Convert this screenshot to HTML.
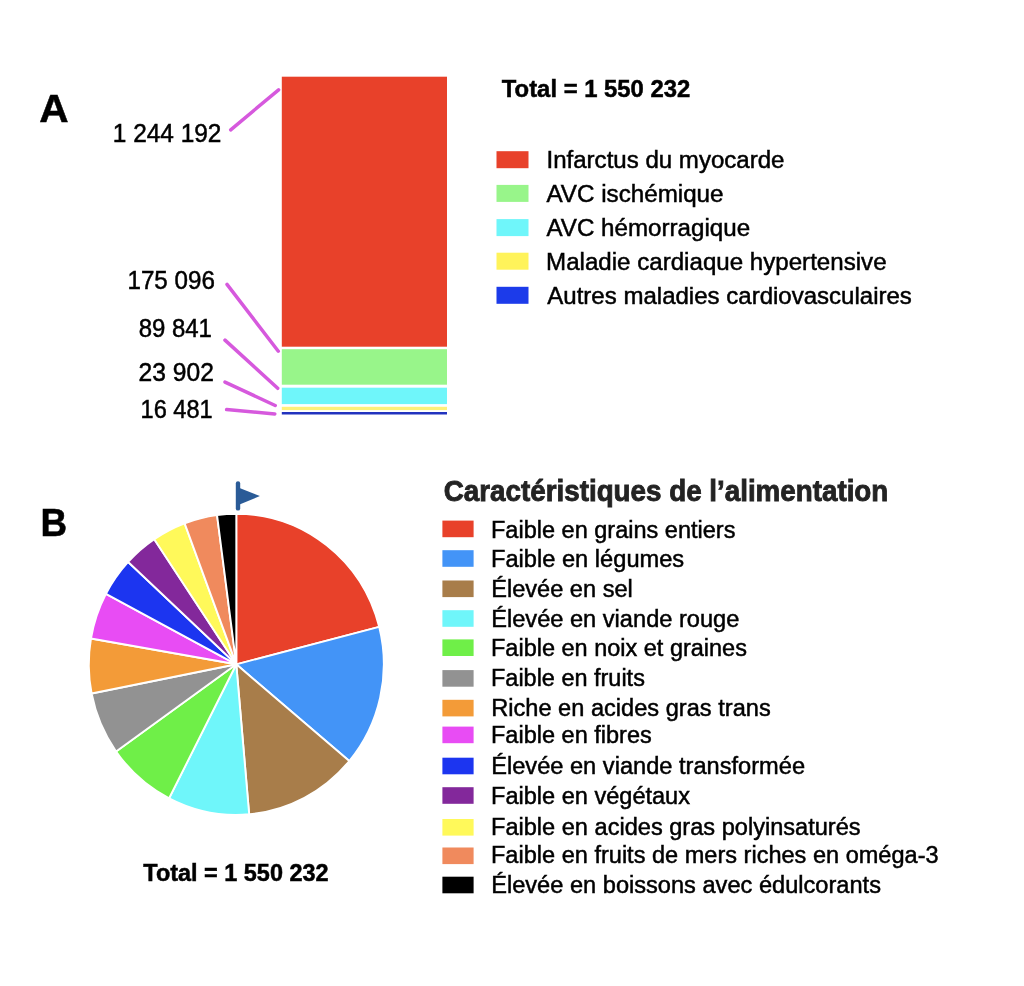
<!DOCTYPE html>
<html lang="fr"><head><meta charset="utf-8"><title>Figure</title>
<style>
html,body{margin:0;padding:0;background:#fff;}
body{width:1024px;height:986px;overflow:hidden;}
svg{display:block;}
text{font-family:"Liberation Sans",sans-serif;}
.b{font-weight:bold;}
</style></head><body>
<svg width="1024" height="986" viewBox="0 0 1024 986">
<rect width="1024" height="986" fill="#fff"/>
<rect x="281.8" y="76.7" width="165.2" height="270.0" fill="#E8412A"/>
<rect x="281.8" y="349.2" width="165.2" height="35.5" fill="#98F58A"/>
<rect x="281.8" y="387.7" width="165.2" height="16.4" fill="#6FF6FA"/>
<rect x="281.8" y="406.8" width="165.2" height="3.3" fill="#FFF07A"/>
<rect x="281.8" y="412.0" width="165.2" height="2.5" fill="#2233BE"/>
<line x1="230.7" y1="129.8" x2="278.6" y2="89.8" stroke="#D659DD" stroke-width="3.5" stroke-linecap="round"/>
<line x1="227" y1="284.4" x2="278.3" y2="351.2" stroke="#D659DD" stroke-width="3.5" stroke-linecap="round"/>
<line x1="225" y1="340.1" x2="277.7" y2="388.3" stroke="#D659DD" stroke-width="3.5" stroke-linecap="round"/>
<line x1="225" y1="382.1" x2="275.2" y2="405.5" stroke="#D659DD" stroke-width="3.5" stroke-linecap="round"/>
<line x1="226.6" y1="409.6" x2="274.8" y2="413.9" stroke="#D659DD" stroke-width="3.5" stroke-linecap="round"/>
<rect x="496.5" y="151.2" width="32" height="17" fill="#E8412A"/>
<rect x="496.5" y="184.9" width="32" height="17" fill="#98F58A"/>
<rect x="496.5" y="219.1" width="32" height="17" fill="#6FF6FA"/>
<rect x="496.5" y="252.7" width="32" height="17" fill="#FFF35A"/>
<rect x="496.5" y="286.8" width="32" height="17" fill="#1C3BEA"/>
<path d="M236.3,664.3 L236.30,513.80 A147.5,150.5 0 0 1 379.17,626.87 Z" fill="#E8412A" stroke="#fff" stroke-width="1.9" stroke-linejoin="round"/>
<path d="M236.3,664.3 L379.17,626.87 A147.5,150.5 0 0 1 349.29,761.04 Z" fill="#4394F7" stroke="#fff" stroke-width="1.9" stroke-linejoin="round"/>
<path d="M236.3,664.3 L349.29,761.04 A147.5,150.5 0 0 1 249.16,814.23 Z" fill="#A87D4A" stroke="#fff" stroke-width="1.9" stroke-linejoin="round"/>
<path d="M236.3,664.3 L249.16,814.23 A147.5,150.5 0 0 1 169.11,798.28 Z" fill="#6FF6FA" stroke="#fff" stroke-width="1.9" stroke-linejoin="round"/>
<path d="M236.3,664.3 L169.11,798.28 A147.5,150.5 0 0 1 116.07,751.48 Z" fill="#6FEF48" stroke="#fff" stroke-width="1.9" stroke-linejoin="round"/>
<path d="M236.3,664.3 L116.07,751.48 A147.5,150.5 0 0 1 91.61,693.53 Z" fill="#929292" stroke="#fff" stroke-width="1.9" stroke-linejoin="round"/>
<path d="M236.3,664.3 L91.61,693.53 A147.5,150.5 0 0 1 90.97,638.55 Z" fill="#F39B38" stroke="#fff" stroke-width="1.9" stroke-linejoin="round"/>
<path d="M236.3,664.3 L90.97,638.55 A147.5,150.5 0 0 1 105.94,593.88 Z" fill="#E84CF4" stroke="#fff" stroke-width="1.9" stroke-linejoin="round"/>
<path d="M236.3,664.3 L105.94,593.88 A147.5,150.5 0 0 1 128.16,561.95 Z" fill="#1C35F0" stroke="#fff" stroke-width="1.9" stroke-linejoin="round"/>
<path d="M236.3,664.3 L128.16,561.95 A147.5,150.5 0 0 1 154.25,539.24 Z" fill="#83289B" stroke="#fff" stroke-width="1.9" stroke-linejoin="round"/>
<path d="M236.3,664.3 L154.25,539.24 A147.5,150.5 0 0 1 184.64,523.33 Z" fill="#FFF95A" stroke="#fff" stroke-width="1.9" stroke-linejoin="round"/>
<path d="M236.3,664.3 L184.64,523.33 A147.5,150.5 0 0 1 217.05,515.09 Z" fill="#F08A5D" stroke="#fff" stroke-width="1.9" stroke-linejoin="round"/>
<path d="M236.3,664.3 L217.05,515.09 A147.5,150.5 0 0 1 236.30,513.80 Z" fill="#000000" stroke="#fff" stroke-width="1.9" stroke-linejoin="round"/>
<line x1="238" y1="483.5" x2="238" y2="508.4" stroke="#2A5B97" stroke-width="4.4" stroke-linecap="round"/>
<path d="M239.5,488.1 L259.9,496.1 L239.5,504.6 Z" fill="#2A5B97"/>
<rect x="442.4" y="520.6" width="31.2" height="16.6" fill="#E8412A"/>
<rect x="442.4" y="550.2" width="31.2" height="16.6" fill="#4394F7"/>
<rect x="442.4" y="580.5" width="31.2" height="16.6" fill="#A87D4A"/>
<rect x="442.4" y="610.2" width="31.2" height="16.6" fill="#6FF6FA"/>
<rect x="442.4" y="639.4" width="31.2" height="16.6" fill="#6FEF48"/>
<rect x="442.4" y="670.1" width="31.2" height="16.6" fill="#929292"/>
<rect x="442.4" y="699.8" width="31.2" height="16.6" fill="#F39B38"/>
<rect x="442.4" y="726.6" width="31.2" height="16.6" fill="#E84CF4"/>
<rect x="442.4" y="757.7" width="31.2" height="16.6" fill="#1C35F0"/>
<rect x="442.4" y="787.2" width="31.2" height="16.6" fill="#83289B"/>
<rect x="442.4" y="819.0" width="31.2" height="16.6" fill="#FFF95A"/>
<rect x="442.4" y="847.5" width="31.2" height="16.6" fill="#F08A5D"/>
<rect x="442.4" y="876.7" width="31.2" height="16.6" fill="#000000"/>
<text transform="translate(112.85,142.30) scale(0.9689,1)" font-size="25.2" fill="#000" stroke="#000" stroke-width="0.5">1 244 192</text>
<text transform="translate(127.46,289.10) scale(0.9605,1)" font-size="25.2" fill="#000" stroke="#000" stroke-width="0.5">175 096</text>
<text transform="translate(138.65,336.80) scale(0.9507,1)" font-size="25.2" fill="#000" stroke="#000" stroke-width="0.5">89 841</text>
<text transform="translate(138.62,381.10) scale(0.9773,1)" font-size="25.2" fill="#000" stroke="#000" stroke-width="0.5">23 902</text>
<text transform="translate(140.60,417.80) scale(0.9356,1)" font-size="25.2" fill="#000" stroke="#000" stroke-width="0.5">16 481</text>
<text class="b" transform="translate(39.25,122.20) scale(1.0538,1)" font-size="38.6" fill="#000" stroke="#000" stroke-width="0.5">A</text>
<text class="b" transform="translate(40.47,535.70) scale(0.9702,1)" font-size="38.0" fill="#000" stroke="#000" stroke-width="0.5">B</text>
<text class="b" transform="translate(501.80,97.20) scale(0.9741,1)" font-size="24.5" fill="#000" stroke="#000" stroke-width="0.5">Total = 1 550 232</text>
<text class="b" transform="translate(143.30,881.10) scale(0.9575,1)" font-size="24.5" fill="#000" stroke="#000" stroke-width="0.5">Total = 1 550 232</text>
<text transform="translate(546.45,168.00) scale(0.9747,1)" font-size="24.7" fill="#000" stroke="#000" stroke-width="0.5">Infarctus du myocarde</text>
<text transform="translate(546.50,201.70) scale(0.9800,1)" font-size="24.7" fill="#000" stroke="#000" stroke-width="0.5">AVC ischémique</text>
<text transform="translate(546.50,236.00) scale(0.9783,1)" font-size="24.7" fill="#000" stroke="#000" stroke-width="0.5">AVC hémorragique</text>
<text transform="translate(546.05,269.50) scale(0.9766,1)" font-size="24.7" fill="#000" stroke="#000" stroke-width="0.5">Maladie cardiaque hypertensive</text>
<text transform="translate(547.30,303.50) scale(0.9733,1)" font-size="24.7" fill="#000" stroke="#000" stroke-width="0.5">Autres maladies cardiovasculaires</text>
<text class="b" transform="translate(443.79,501.10) scale(0.9140,1)" font-size="30.4" fill="#232323" stroke="#232323" stroke-width="0.9">Caractéristiques de l’alimentation</text>
<text transform="translate(491.00,538.00) scale(0.9524,1)" font-size="24.7" fill="#000" stroke="#000" stroke-width="0.5">Faible en grains entiers</text>
<text transform="translate(490.98,567.00) scale(0.9578,1)" font-size="24.7" fill="#000" stroke="#000" stroke-width="0.5">Faible en légumes</text>
<text transform="translate(491.19,597.00) scale(0.9552,1)" font-size="24.7" fill="#000" stroke="#000" stroke-width="0.5">Élevée en sel</text>
<text transform="translate(491.19,626.70) scale(0.9571,1)" font-size="24.7" fill="#000" stroke="#000" stroke-width="0.5">Élevée en viande rouge</text>
<text transform="translate(491.00,655.90) scale(0.9516,1)" font-size="24.7" fill="#000" stroke="#000" stroke-width="0.5">Faible en noix et graines</text>
<text transform="translate(491.00,686.40) scale(0.9505,1)" font-size="24.7" fill="#000" stroke="#000" stroke-width="0.5">Faible en fruits</text>
<text transform="translate(491.19,715.80) scale(0.9561,1)" font-size="24.7" fill="#000" stroke="#000" stroke-width="0.5">Riche en acides gras trans</text>
<text transform="translate(491.00,742.70) scale(0.9518,1)" font-size="24.7" fill="#000" stroke="#000" stroke-width="0.5">Faible en fibres</text>
<text transform="translate(491.19,774.20) scale(0.9572,1)" font-size="24.7" fill="#000" stroke="#000" stroke-width="0.5">Élevée en viande transformée</text>
<text transform="translate(490.99,803.50) scale(0.9540,1)" font-size="24.7" fill="#000" stroke="#000" stroke-width="0.5">Faible en végétaux</text>
<text transform="translate(490.99,835.30) scale(0.9550,1)" font-size="24.7" fill="#000" stroke="#000" stroke-width="0.5">Faible en acides gras polyinsaturés</text>
<text transform="translate(490.99,863.40) scale(0.9537,1)" font-size="24.7" fill="#000" stroke="#000" stroke-width="0.5">Faible en fruits de mers riches en oméga-3</text>
<text transform="translate(491.19,892.70) scale(0.9560,1)" font-size="24.7" fill="#000" stroke="#000" stroke-width="0.5">Élevée en boissons avec édulcorants</text>
</svg></body></html>
